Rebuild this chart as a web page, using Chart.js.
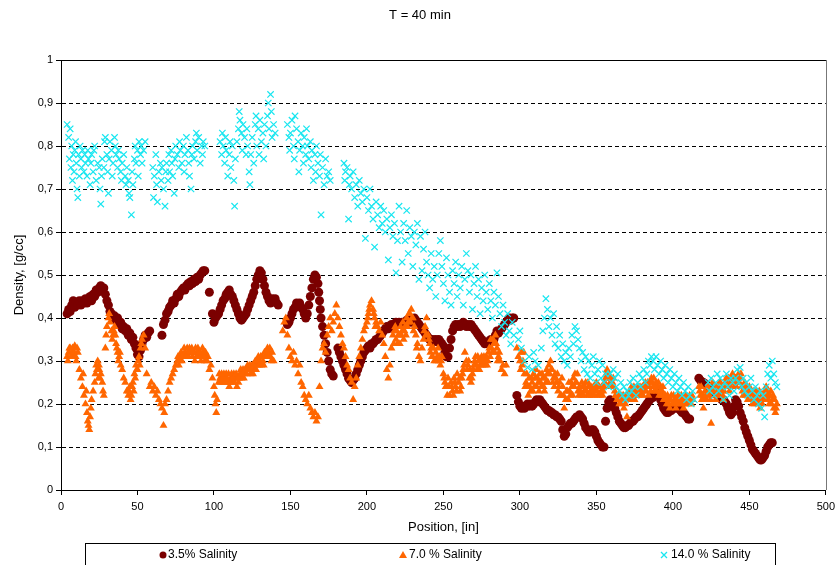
<!DOCTYPE html>
<html>
<head>
<meta charset="utf-8">
<script src="https://cdn.jsdelivr.net/npm/chart.js@4.4.1/dist/chart.umd.min.js"></script>
<style>
  html, body { margin: 0; padding: 0; background: #fff; }
  #wrap { width: 840px; height: 565px; }
</style>
</head>
<body>
<div id="wrap"><canvas id="chart" width="840" height="565"></canvas></div>
<script>
// Texts
const chartTitle = 'T = 40 min';
const xAxisTitle = 'Position, [in]';
const yAxisTitle = 'Density, [g/cc]';
const seriesNames = ['3.5% Salinity', '7.0 % Salinity', '14.0 % Salinity'];

// Axis ranges
const xTicks = { min: 0, max: 500, step: 50 };
const yTicks = { min: 0, max: 1, step: 0.1 };

// 3.5 % salinity: [position (in), density (g/cc)]
const salinity35 = [
  [4,.41],[5,.42],[6,.415],[7,.43],[8,.44],[9,.425],[10,.435],[11,.43],[12,.44],[13,.43],[14,.44],[15,.435],[16,.445],[17,.435],[18,.44],[19,.45],[20,.44],[21,.455],[22,.45],[23,.465],[24,.46],[25,.47],[26,.475],[27,.465],[28,.47],[29,.455],[30,.44],[31,.43],[32,.415],[33,.41],[34,.40],[35,.405],[36,.395],[37,.40],[38,.385],[39,.39],[40,.375],[41,.38],[42,.37],[43,.375],[44,.36],[45,.365],[46,.35],[47,.355],[48,.34],[49,.33],[50,.315],[51,.31],[52,.325],[53,.34],[54,.35],[55,.36],[56,.355],[57,.365],[58,.37],
  [66,.36],[67,.385],[68,.395],[69,.41],[70,.415],[71,.425],[72,.43],[73,.44],[74,.435],[75,.445],[76,.455],[77,.45],[78,.46],[79,.465],[80,.47],[81,.465],[82,.475],[83,.48],[84,.475],[85,.485],[86,.48],[87,.49],[88,.485],[89,.495],[90,.49],[91,.50],[92,.505],[93,.51],[94,.51],
  [97,.46],[99,.41],[100,.39],[101,.40],[102,.405],[103,.41],[104,.42],[105,.43],[106,.44],[107,.445],[108,.455],[109,.46],[110,.465],[111,.455],[112,.45],[113,.44],[114,.43],[115,.42],[116,.41],[117,.40],[118,.395],[119,.40],[120,.405],[121,.41],[122,.42],[123,.43],[124,.44],[125,.45],[126,.46],[127,.475],[128,.49],[129,.50],[130,.51],[131,.505],[132,.49],[133,.475],[134,.46],[135,.45],[136,.44],[137,.435],[138,.445],[139,.44],[140,.445],[141,.435],[142,.43],
  [148,.385],[149,.39],[150,.40],[151,.41],[152,.42],[153,.425],[154,.435],[155,.43],[156,.435],[157,.425],[158,.42],[159,.41],[160,.40],[161,.41],[162,.43],[163,.45],[164,.47],[165,.49],[166,.50],[167,.495],[168,.48],[168.5,.46],[169,.44],[169.5,.42],[170,.40],[171,.38],[172,.36],[173,.34],[174,.32],[175,.30],[176,.28],[177,.27],[178,.265],
  [181,.33],[182,.32],[183,.31],[184,.30],[185,.29],[186,.28],[187,.27],[188,.26],[189,.255],[190,.25],[191,.255],[192,.26],[193,.27],[194,.28],[195,.29],[196,.30],[197,.31],[198,.32],[199,.325],[200,.33],[201,.335],[202,.33],[203,.34],[204,.34],[205,.345],[206,.35],[207,.35],[208,.355],[209,.36],[210,.365],[211,.37],[212,.375],[213,.38],[214,.375],[215,.38],[216,.385],[217,.38],[218,.385],[219,.39],[220,.385],[221,.39],[222,.385],[223,.39],[224,.385],[225,.39],[226,.395],[227,.39],[228,.395],[229,.39],[230,.395],[231,.40],[232,.395],[233,.39],[234,.385],[235,.38],[236,.375],[237,.37],[238,.365],[239,.36],[240,.355],[241,.35],[242,.345],[243,.35],[244,.345],[245,.35],[246,.345],[247,.35],[248,.345],[249,.34],[250,.335],[251,.32],[252,.31],[253,.31],[254,.33],[255,.35],[256,.37],[257,.38],[258,.385],[259,.38],[260,.385],[261,.38],[262,.385],[263,.39],[264,.385],[265,.38],[266,.385],[267,.38],[268,.385],[269,.38],[270,.375],[271,.37],[272,.365],[273,.36],[274,.355],[275,.35],[276,.345],[277,.34],[278,.345],[279,.34],[280,.345],[281,.35],[282,.345],[283,.35],[284,.36],[285,.37],[286,.365],[287,.37],[288,.375],[289,.38],[290,.385],[291,.39],[292,.395],[293,.40],[294,.395],[295,.40],[296,.40],
  [298,.22],[299,.205],[300,.195],[301,.19],[302,.195],[303,.19],[304,.195],[305,.20],[306,.195],[307,.20],[308,.195],[309,.20],[310,.205],[311,.21],[312,.205],[313,.21],[314,.205],[315,.20],[316,.195],[317,.19],[318,.185],[319,.185],[320,.18],[321,.18],[322,.175],[323,.175],[324,.17],[325,.17],[326,.165],[327,.16],[328,.14],[329,.125],[330,.13],[331,.145],[332,.15],[333,.155],[334,.155],[335,.16],[336,.165],[337,.17],[338,.17],[339,.175],[340,.17],[341,.165],[342,.155],[343,.145],[344,.14],[345,.135],[346,.135],[347,.14],[348,.14],[349,.135],[350,.125],[351,.115],[352,.11],[353,.105],[354,.10],[355,.10],
  [356,.16],[357,.19],[358,.205],[359,.21],[360,.205],[361,.20],[362,.19],[363,.18],[364,.17],[365,.16],[366,.155],[367,.15],[368,.145],[369,.145],[370,.15],[371,.15],[372,.155],[373,.16],[374,.16],[375,.165],[376,.17],[377,.17],[378,.175],[379,.18],[380,.185],[381,.19],[382,.195],[383,.20],[384,.205],[385,.21],[386,.215],[387,.215],[388,.22],[389,.225],[390,.225],[391,.22],[392,.21],[393,.20],[394,.19],[395,.185],[396,.18],[397,.18],[398,.185],[399,.185],[400,.19],[401,.19],[402,.195],[403,.19],[404,.19],[405,.185],[406,.18],[407,.18],[408,.175],[409,.17],[410,.165],[411,.165],
  [417,.26],[418,.255],[419,.25],[420,.25],[421,.245],[422,.245],[423,.24],[424,.24],[425,.235],[426,.235],[427,.23],[428,.225],[429,.22],[430,.22],[431,.215],[432,.21],[433,.21],[434,.205],[435,.20],[436,.19],[437,.18],[438,.175],[439,.18],[440,.195],[441,.21],[442,.205],[443,.195],[444,.18],[445,.17],[446,.16],[447,.145],[448,.135],[449,.125],[450,.115],[451,.105],[452,.095],[453,.09],[454,.085],[455,.08],[456,.075],[457,.07],[458,.07],[459,.075],[460,.08],[461,.09],[462,.10],[463,.105],[464,.11],[465,.11]
];

// 7.0 % salinity
const salinity70 = [
  [4,.31],[5,.32],[6,.33],[7,.32],[8,.31],[9,.335],[10,.30],[11,.32],[12,.28],[13,.26],[14,.24],[14.5,.27],[15,.22],[16,.20],[16.5,.23],[17,.18],[17.5,.16],[18,.15],[18.5,.14],[19,.17],[19.5,.19],[20,.21],[21,.23],[22,.25],[22.5,.27],[23,.29],[24,.30],[24.5,.26],[25,.28],[26,.27],[27,.25],[27.5,.23],[28,.22],
  [29,.33],[29.5,.36],[30,.38],[31,.40],[31.5,.41],[32,.39],[33,.37],[33.5,.35],[34,.36],[35,.38],[36,.34],[37,.32],[38,.31],[39,.29],[40,.28],[41,.26],[42,.25],[43,.23],[44,.22],[45,.24],[46,.22],[47,.25],[48,.27],[49,.29],[50,.28],[51,.31],[52,.33],[53,.35],[54,.36],[55,.33],[56,.27],[58,.24],[59,.25],[60,.23],[61,.24],[62,.22],[63,.23],[64,.21],[65,.20],[66,.19],[67,.15],[67.5,.18],[68,.20],[69,.21],[70,.23],[71,.25],[72,.26],[73,.27],[74,.28],[75,.29],[76,.30],[77,.29],[78,.31],[79,.30],[80,.31],[81,.32],[82,.31],[83,.32],[84,.33],[85,.32],[86,.31],[87,.32],[88,.33],[89,.32],[90,.31],[91,.32],[92,.31],[93,.32],[94,.30],[95,.31],[96,.31],[97,.28],[98,.29],[99,.26],[100,.24],[100.5,.22],[101,.20],[101.5,.18],[102,.21],[103,.25],[104,.26],[105,.27],[106,.25],[107,.26],[108,.27],[109,.25],[110,.24],[111,.26],[112,.25],[113,.27],[114,.26],[115,.24],[116,.25],[117,.27],[118,.26],[119,.28],[120,.27],[121,.28],[122,.29],[123,.28],[124,.27],[125,.29],[126,.28],[127,.30],[128,.29],[129,.31],[130,.30],[131,.29],[132,.30],[133,.32],[134,.31],[135,.33],[136,.32],[137,.31],[138,.32],[139,.30],
  [145,.37],[146,.39],[147,.40],[148,.36],[149,.33],[150,.31],[151,.30],[152,.32],[153,.29],[154,.30],[155,.27],[156,.29],[157,.25],[158,.24],[159,.22],[160,.21],[161,.20],[162,.22],[163,.19],[164,.18],[165,.17],[166,.18],[167,.16],[168,.17],[169,.24],
  [170,.30],[171,.33],[172,.34],[173,.32],[174,.36],[175,.38],[176,.40],[177,.37],[178,.39],[179,.41],[180,.43],[181,.40],[182,.38],[183,.36],[184,.34],[185,.33],[186,.31],[187,.29],[188,.28],[189,.26],[190,.25],[191,.21],[192,.24],[193,.26],[194,.29],[195,.31],[196,.33],[197,.35],[198,.37],[199,.38],[200,.39],[201,.41],[202,.43],[203,.44],[204,.42],[205,.40],[206,.39],[207,.38],[208,.37],[209,.39],[210,.36],[211,.34],[212,.31],[213,.28],[214,.26],[215,.29],[216,.33],[217,.36],[218,.37],[219,.35],[220,.34],[221,.36],[222,.38],[223,.37],[224,.35],[225,.38],[226,.40],[227,.39],[228,.41],[229,.42],[230,.40],[231,.38],[232,.36],[233,.34],[234,.31],[235,.30],[236,.33],[237,.35],[238,.38],[239,.40],[240,.36],[241,.34],[242,.33],[243,.31],[244,.30],[245,.32],[246,.31],[247,.30],[248,.29],[249,.31],[250,.27],[251,.25],[252,.24],[253,.26],[254,.22],[255,.25],[256,.23],[257,.26],[258,.24],[259,.27],[260,.25],[261,.23],[262,.26],[263,.28],[264,.32],[265,.30],[266,.29],[267,.26],[268,.25],[269,.27],[270,.29],[271,.31],[272,.28],[273,.30],[274,.29],[275,.31],[276,.30],[277,.29],[278,.31],[279,.30],[280,.33],[281,.35],[282,.32],[283,.34],[284,.36],[285,.33],[286,.31],[287,.30],[288,.28],[289,.29],[290,.27],[291,.29],
  [298,.33],[299,.31],[300,.30],[301,.32],[302,.30],[303,.27],[304,.25],[305,.24],[306,.26],[307,.23],[308,.25],[309,.27],[310,.26],[311,.24],[312,.25],[313,.27],[314,.24],[315,.26],[316,.23],[317,.25],[318,.27],[319,.29],[320,.30],[321,.28],[322,.26],[323,.27],[324,.25],[325,.23],[326,.25],[327,.22],[328,.24],[329,.19],[330,.21],[331,.23],[332,.25],[333,.22],[334,.24],[335,.26],[336,.27],[337,.25],[338,.23],[339,.24],[340,.22],[341,.24],[342,.23],[343,.25],[344,.22],[345,.24],[346,.23],[347,.22],[348,.24],[349,.23],[350,.25],[351,.22],[352,.24],[353,.23],[354,.22],[355,.24],[356,.26],[357,.28],[358,.27],[359,.25],[360,.24],[361,.26],[362,.23],[363,.22],[364,.21],[365,.20],[366,.22],[367,.21],[368,.19],[369,.20],[370,.17],[371,.21],[372,.22],[373,.24],[374,.23],[375,.21],[376,.22],[377,.24],[378,.23],[379,.22],[380,.24],[381,.23],[382,.25],[383,.24],[384,.22],[385,.25],[386,.26],[387,.24],[388,.23],[389,.25],[390,.24],[391,.22],[392,.24],[393,.23],[394,.21],[395,.22],[396,.20],[397,.21],[398,.19],[399,.22],[400,.20],[401,.21],[402,.19],[403,.20],[404,.22],[405,.21],[406,.20],[407,.19],[408,.21],[409,.20],[410,.21],[411,.22],[412,.20],[413,.21],
  [417,.24],[418,.22],[419,.21],[420,.19],[421,.23],[422,.21],[423,.24],[424,.22],[425,.155],[426,.25],[427,.23],[428,.21],[429,.24],[430,.22],[431,.25],[432,.23],[433,.21],[434,.24],[435,.26],[436,.25],[437,.23],[438,.25],[439,.27],[440,.24],[441,.26],[442,.25],[443,.27],[444,.26],[445,.24],[446,.22],[447,.25],[448,.23],[449,.21],[450,.24],[451,.22],[452,.20],[453,.23],[454,.21],[455,.22],[456,.20],[457,.19],[458,.22],[459,.21],[460,.23],[461,.24],[462,.22],[463,.20],[464,.23],[465,.21],[466,.19],[467,.18],[468,.20]
];

// 7.0 % salinity, readings taken between the ones above
const salinity70Between = [
  [4.5,.30],[5.5,.33],[6.5,.31],[7.5,.33],[8.5,.32],[9.5,.31],[10.5,.33],[23.5,.28],[24.8,.29],[25.5,.26],[34.5,.37],[35.5,.36],[36.5,.33],[37.5,.30],[38.5,.32],[44.5,.23],[45.5,.21],[46.5,.24],[47.5,.23],[48.5,.26],[49.5,.28],[50.5,.30],[51.5,.29],[52.5,.34],
  [76.5,.31],[77.5,.30],[78.5,.32],[79.5,.31],[80.5,.33],[81.5,.31],[82.5,.33],[83.5,.31],[84.5,.32],[85.5,.33],[86.5,.32],[87.5,.30],[88.5,.31],[89.5,.33],[90.5,.32],[91.5,.30],[92.5,.33],[93.5,.31],[94.5,.32],[95.5,.30],
  [103.5,.27],[104.5,.25],[105.5,.26],[106.5,.27],[107.5,.25],[108.5,.26],[109.5,.27],[110.5,.25],[111.5,.27],[112.5,.26],[113.5,.25],[114.5,.27],[115.5,.26],[116.5,.26],[117.5,.28],[118.5,.27],[119.5,.26],[120.5,.28],[121.5,.27],[122.5,.28],[123.5,.29],[124.5,.28],[125.5,.27],[126.5,.29],[127.5,.28],[128.5,.30],[129.5,.29],[130.5,.31],[131.5,.31],[132.5,.29],[133.5,.31],[134.5,.32],[135.5,.31],[136.5,.33],[137.5,.30],
  [200.5,.40],[201.5,.42],[204.5,.41],[205.5,.38],[217.5,.34],[218.5,.38],[219.5,.37],[220.5,.36],[221.5,.34],[222.5,.36],[223.5,.39],[224.5,.37],[225.5,.36],[226.5,.38],[227.5,.41],[228.5,.39],[229.5,.40],[230.5,.37],[232.5,.33],[237.5,.37],[238.5,.36],[240.5,.35],[241.5,.32],[242.5,.31],[243.5,.33],[245.5,.30],[246.5,.33],[247.5,.31],[248.5,.30],
  [250.5,.26],[251.5,.24],[252.5,.22],[253.5,.24],[255.5,.24],[256.5,.22],[257.5,.25],[258.5,.23],[260.5,.26],[261.5,.24],[262.5,.27],[263.5,.29],[265.5,.28],[266.5,.30],[267.5,.28],[268.5,.26],[269.5,.28],[270.5,.30],[271.5,.29],[272.5,.31],[273.5,.28],[274.5,.30],[275.5,.29],[276.5,.31],[277.5,.30],[278.5,.29],[279.5,.32],[280.5,.31],[281.5,.33],[282.5,.35],[283.5,.32],[284.5,.34],[285.5,.30],[286.5,.32],
  [300.5,.28],[301.5,.29],[302.5,.32],[303.5,.24],[304.5,.27],[305.5,.22],[306.5,.24],[307.5,.26],[308.5,.23],[309.5,.24],[310.5,.28],[311.5,.26],[312.5,.23],[313.5,.25],[314.5,.27],[315.5,.24],[316.5,.26],[317.5,.28],[318.5,.25],[319.5,.27],[320.5,.28],[321.5,.25],[322.5,.24],[323.5,.26],[324.5,.27],[325.5,.24],[326.5,.22],[327.5,.26],[328.5,.22],[330.5,.23],[331.5,.21],[332.5,.23],[333.5,.25],[334.5,.22],[335.5,.24],[336.5,.25],[337.5,.27],[338.5,.22],[339.5,.23],[340.5,.25],[341.5,.22],[342.5,.24],[343.5,.23],[344.5,.25],[345.5,.22],[346.5,.24],[347.5,.23],[348.5,.22],[349.5,.24],[350.5,.23],[351.5,.24],[352.5,.22],[353.5,.24],[354.5,.23],[355.5,.25],[356.5,.27],[357.5,.26],[358.5,.24],[359.5,.26],[360.5,.25],[361.5,.24],[362.5,.22],[363.5,.21],[364.5,.22],[365.5,.21],[366.5,.20],[367.5,.22],[368.5,.21],[369.5,.22],[371.5,.23],[372.5,.21],[373.5,.22],[374.5,.24],[375.5,.23],[376.5,.24],[377.5,.22],[378.5,.24],[379.5,.23],[380.5,.22],[381.5,.24],[382.5,.23],[383.5,.25],[384.5,.24],[385.5,.23],[386.5,.25],[387.5,.26],[388.5,.24],[389.5,.23],[390.5,.25],[391.5,.23],[392.5,.22],[393.5,.24],[394.5,.22],[395.5,.21],[396.5,.22],[397.5,.20],[398.5,.21],[399.5,.20],[400.5,.22],[401.5,.20],[402.5,.21],[403.5,.22],[404.5,.20],[405.5,.22],[406.5,.21],[407.5,.20],[408.5,.22],[409.5,.21],[410.5,.20],[411.5,.21],[412.5,.22],
  [417.5,.23],[418.5,.24],[419.5,.22],[420.5,.21],[421.5,.22],[422.5,.24],[423.5,.23],[424.5,.21],[426.5,.23],[427.5,.24],[428.5,.22],[429.5,.23],[430.5,.25],[431.5,.24],[432.5,.22],[433.5,.23],[434.5,.25],[435.5,.24],[436.5,.26],[437.5,.24],[438.5,.26],[439.5,.25],[440.5,.26],[441.5,.24],[442.5,.26],[443.5,.25],[444.5,.27],[445.5,.23],[446.5,.24],[447.5,.22],[448.5,.24],[449.5,.23],[450.5,.22],[451.5,.21],[452.5,.22],[453.5,.20],[454.5,.23],[455.5,.21],[456.5,.23],[457.5,.21],[458.5,.20],[459.5,.22],[460.5,.21],[461.5,.23],[462.5,.21],[463.5,.22],[464.5,.20],[465.5,.22],[466.5,.21],[467.5,.19]
];

// 14.0 % salinity
const salinity140 = [
  [4,.85],[5,.82],[5.5,.77],[6,.84],[6.5,.75],[7,.80],[7.5,.72],[8,.78],[8.5,.74],[9,.79],[9.5,.81],[10,.76],[10.5,.70],[11,.68],[11.5,.78],[12,.73],[12.5,.80],[13,.77],[13.5,.75],[14,.79],[15,.74],[15.5,.78],[16,.76],[17,.73],[17.5,.79],[18,.77],[19,.71],[19.5,.76],[20,.78],[21,.74],[21.5,.79],[22,.80],[23,.72],[24,.76],[25,.75],[25.5,.70],[26,.665],[26.5,.73],[27,.77],[28,.75],[28.5,.81],[29,.82],[30,.78],[30.5,.74],[31,.69],[31.5,.77],[32,.81],[33,.79],[33.5,.73],[34,.76],[35,.82],[35.5,.80],[36,.78],[37,.75],[37.5,.79],[38,.77],[39,.74],[39.5,.72],[40,.76],[41,.78],[42,.73],[42.5,.71],[43,.75],[44,.72],[44.5,.69],[45,.68],[46,.64],[46.5,.74],[47,.71],[48,.77],[48.5,.80],[49,.76],[50,.79],[50.5,.73],[51,.81],[52,.78],[52.5,.80],[53,.76],[54,.79],[55,.81],
  [60,.75],[60.5,.68],[61,.73],[62,.78],[62.5,.71],[63,.67],[64,.74],[65,.76],[65.5,.72],[66,.75],[67,.70],[68,.66],[68.5,.74],[69,.76],[70,.72],[70.5,.78],[71,.74],[72,.79],[72.5,.76],[73,.73],[74,.69],[74.5,.77],[75,.80],[76,.78],[77,.75],[77.5,.81],[78,.79],[79,.76],[80,.80],[80.5,.74],[81,.78],[82,.82],[83,.79],[83.5,.76],[84,.73],[85,.70],[85.5,.78],[86,.80],[87,.77],[88,.81],[88.5,.83],[89,.79],[90,.82],[91,.76],[92,.80],[92.5,.78],[93,.81],[94,.80],
  [104,.81],[105,.78],[105.5,.83],[106,.80],[107,.76],[107.5,.82],[108,.79],[109,.73],[110,.78],[110.5,.81],[111,.75],[112,.80],[113,.72],[113.5,.66],[114,.77],[115,.81],[116,.84],[116.5,.88],[117,.86],[118,.83],[118.5,.79],[119,.85],[120,.82],[121,.78],[121.5,.84],[122,.80],[123,.74],[123.5,.71],[124,.78],[125,.82],[126,.76],[127,.85],[127.5,.87],[128,.80],[129,.84],[129.5,.78],[130,.86],[131,.81],[132,.83],[132.5,.77],[133,.85],[134,.80],[135,.87],[135.5,.90],[136,.84],[137,.92],[137.5,.88],[138,.82],[139,.85],[140,.83],
  [148,.85],[149,.82],[149.5,.79],[150,.83],[151,.86],[152,.80],[152.5,.77],[153,.87],[154,.84],[155,.81],[155.5,.74],[156,.79],[157,.83],[158,.80],[158.5,.76],[159,.82],[160,.78],[160.5,.84],[161,.80],[162,.77],[163,.81],[163.5,.75],[164,.79],[165,.72],[166,.78],[166.5,.74],[167,.80],[168,.76],[169,.73],[169.5,.78],[170,.64],[171,.75],[172,.71],[173,.77],[174,.73],[175,.74],[176,.72],
  [185,.76],[185.5,.72],[186,.74],[187,.75],[188,.63],[188.5,.71],[189,.73],[190,.70],[191,.74],[192,.68],[193,.71],[194,.66],[195,.72],[196,.69],[197,.67],[198,.70],[199,.585],[200,.68],[201,.65],[202,.70],[203,.66],[204,.63],[205,.565],[206,.67],[207,.64],[208,.61],[209,.66],[210,.62],[211,.65],[212,.60],[213,.63],[214,.535],[215,.61],[216,.64],[217,.59],[218,.62],[219,.505],[220,.58],[221,.66],[222,.60],[223,.53],[224,.62],[225,.58],[226,.65],[227,.55],[228,.61],[229,.59],[230,.52],[231,.60],[232,.57],[233,.62],[234,.49],[235,.59],[236,.51],
  [237,.56],[238,.60],[239,.53],[240,.50],[241,.47],[242,.55],[243,.49],[244,.52],[245,.45],[246,.50],[247,.55],[248,.58],[249,.52],[250,.48],[251,.44],[252,.54],[253,.50],[254,.46],[255,.43],[256,.51],[257,.48],[258,.53],[259,.45],[260,.50],[261,.47],[262,.52],[263,.43],[264,.49],[265,.55],[266,.51],[267,.46],[268,.50],[269,.42],[270,.48],[271,.52],[272,.45],[273,.49],[274,.41],[275,.47],[276,.44],[277,.50],[278,.46],[279,.42],[280,.48],[281,.44],[282,.40],[283,.46],[284,.43],[285,.505],[286,.45],[287,.41],[288,.38],[289,.43],[290,.39],[291,.36],[292,.41],[293,.37],[294,.34],[295,.39],[296,.36],
  [299,.35],[300,.37],[301,.33],[303,.30],[305,.285],[306,.31],[308,.28],[309,.32],[310,.30],[312,.29],[314,.33],[315,.37],[316,.40],[317,.445],[318,.42],[319,.38],[320,.40],[321,.36],[322,.41],[323,.34],[324,.38],[325,.33],[326,.36],[327,.31],[328,.34],[329,.30],[330,.32],[331,.29],[332,.33],[333,.31],[334,.36],[335,.34],[336,.38],[337,.37],[338,.35],[339,.33],[340,.30],[341,.32],[342,.28],[343,.31],[344,.27],[345,.30],[346,.26],[347,.29],[348,.31],[349,.27],[350,.25],[351,.28],[352,.30],[353,.26],[354,.29],[355,.25],[356,.27],
  [358,.24],[359,.27],[360,.25],[361,.28],[362,.26],[363,.24],[364,.27],[365,.23],[366,.25],[367,.22],[368,.24],[369,.21],[370,.23],[371,.22],[372,.25],[373,.23],[374,.26],[375,.24],[376,.22],[377,.25],[378,.27],[379,.24],[380,.26],[381,.28],[382,.25],[383,.27],[384,.30],[385,.29],[386,.31],[387,.30],[388,.28],[389,.31],[390,.29],[391,.27],[392,.30],[393,.28],[394,.26],[395,.29],[396,.27],[397,.25],[398,.28],[399,.26],[400,.24],[401,.27],[402,.25],[403,.23],[404,.26],[405,.24],[406,.22],[407,.25],[408,.23],[409,.21],[410,.24],[411,.22],[412,.20],[413,.23],[414,.21],
  [423,.25],[424,.23],[425,.26],[426,.24],[427,.22],[428,.25],[429,.27],[430,.23],[431,.26],[432,.24],[433,.21],[434,.25],[435,.27],[436,.24],[437,.22],[438,.26],[439,.25],[440,.23],[441,.26],[442,.28],[443,.25],[444,.285],[445,.24],[446,.26],[447,.23],[448,.25],[449,.22],[450,.24],[451,.26],[452,.23],[453,.21],[454,.24],[455,.22],[456,.20],[457,.23],[458,.19],[459,.22],[460,.17],[461,.24],[462,.27],[463,.29],[464,.26],[465,.30],[466,.27],[467,.25],[468,.24]
];

const FONT = "'Liberation Sans', Arial, sans-serif";
const COLORS = { maroon: '#7b0000', orange: '#ff6600', cyan: '#19e6f0' };

const toPoints = arr => arr.map(([x, y]) => ({ x, y }));

// Title, plot frame and legend box
const decorations = {
  id: 'decorations',
  afterDraw(chart) {
    const { ctx, chartArea: a } = chart;
    ctx.save();
    // frame: top in black, right edge in grey
    ctx.lineWidth = 1;
    ctx.strokeStyle = '#000';
    ctx.beginPath();
    ctx.moveTo(a.left, Math.round(a.top) + 0.5);
    ctx.lineTo(a.right, Math.round(a.top) + 0.5);
    ctx.stroke();
    ctx.strokeStyle = '#777';
    ctx.beginPath();
    ctx.moveTo(Math.round(a.right) + 0.5, a.top);
    ctx.lineTo(Math.round(a.right) + 0.5, a.bottom);
    ctx.stroke();

    // title
    ctx.fillStyle = '#000';
    ctx.font = `13px ${FONT}`;
    ctx.textAlign = 'center';
    ctx.textBaseline = 'middle';
    ctx.fillText(chartTitle, 420, 15);

    // legend
    ctx.strokeStyle = '#000';
    ctx.strokeRect(85.5, 543.5, 690, 40);
    const ly = 555;
    ctx.textAlign = 'left';
    ctx.font = `12px ${FONT}`;
    // circle
    ctx.fillStyle = COLORS.maroon;
    ctx.beginPath(); ctx.arc(163, ly, 3.5, 0, Math.PI * 2); ctx.fill();
    ctx.fillStyle = '#000';
    ctx.fillText(seriesNames[0], 168, ly);
    // triangle
    ctx.fillStyle = COLORS.orange;
    ctx.beginPath();
    ctx.moveTo(403, ly - 4); ctx.lineTo(407, ly + 3); ctx.lineTo(399, ly + 3); ctx.closePath(); ctx.fill();
    ctx.fillStyle = '#000';
    ctx.fillText(seriesNames[1], 409, ly);
    // cross
    ctx.strokeStyle = COLORS.cyan; ctx.lineWidth = 1.3;
    ctx.beginPath();
    ctx.moveTo(661, ly - 3); ctx.lineTo(667, ly + 3);
    ctx.moveTo(667, ly - 3); ctx.lineTo(661, ly + 3);
    ctx.stroke();
    ctx.fillStyle = '#000';
    ctx.fillText(seriesNames[2], 671, ly);
    ctx.restore();
  }
};

new Chart(document.getElementById('chart'), {
  type: 'scatter',
  data: {
    datasets: [
      {
        label: seriesNames[0], data: toPoints(salinity35), order: 3,
        pointStyle: 'circle', pointRadius: 4.5, backgroundColor: COLORS.maroon,
        borderColor: COLORS.maroon, borderWidth: 0
      },
      {
        label: seriesNames[1], data: toPoints(salinity70.concat(salinity70Between)), order: 2,
        pointStyle: 'triangle', pointRadius: 4.6, backgroundColor: COLORS.orange,
        borderColor: COLORS.orange, borderWidth: 0
      },
      {
        label: seriesNames[2], data: toPoints(salinity140), order: 1,
        pointStyle: 'crossRot', pointRadius: 4.5, backgroundColor: COLORS.cyan,
        borderColor: COLORS.cyan, borderWidth: 1.2
      }
    ]
  },
  options: {
    responsive: false,
    animation: false,
    devicePixelRatio: 1,
    layout: { padding: { left: 0, top: 60, right: 13, bottom: 0 } },
    plugins: { legend: { display: false }, title: { display: false }, tooltip: { enabled: false } },
    scales: {
      x: {
        type: 'linear', min: xTicks.min, max: xTicks.max,
        afterFit: s => { s.height = 75; },
        ticks: { stepSize: xTicks.step, color: '#000', font: { family: FONT, size: 11 }, padding: 5, maxRotation: 0 },
        grid: { drawOnChartArea: false, drawTicks: true, tickLength: 5, tickColor: '#000' },
        border: { color: '#000', width: 1 },
        title: { display: true, text: xAxisTitle, color: '#000', font: { family: FONT, size: 13 }, padding: { top: 0, bottom: 30 } }
      },
      y: {
        min: yTicks.min, max: yTicks.max,
        afterFit: s => { s.width = 61; },
        ticks: {
          stepSize: yTicks.step, color: '#000', font: { family: FONT, size: 11 }, padding: 3,
          callback: v => {
            const r = Math.round(v * 10) / 10;
            return (r === 0 || r === 1) ? String(r) : r.toFixed(1).replace('.', ',');
          }
        },
        grid: { color: '#000', lineWidth: 1, drawTicks: true, tickLength: 5, tickColor: '#000', tickBorderDash: [] },
        border: { color: '#000', width: 1, dash: [4, 3] },
        title: { display: true, text: yAxisTitle, color: '#000', font: { family: FONT, size: 13 }, padding: { top: 12, bottom: 0 } }
      }
    }
  },
  plugins: [decorations]
});
</script>
</body>
</html>
